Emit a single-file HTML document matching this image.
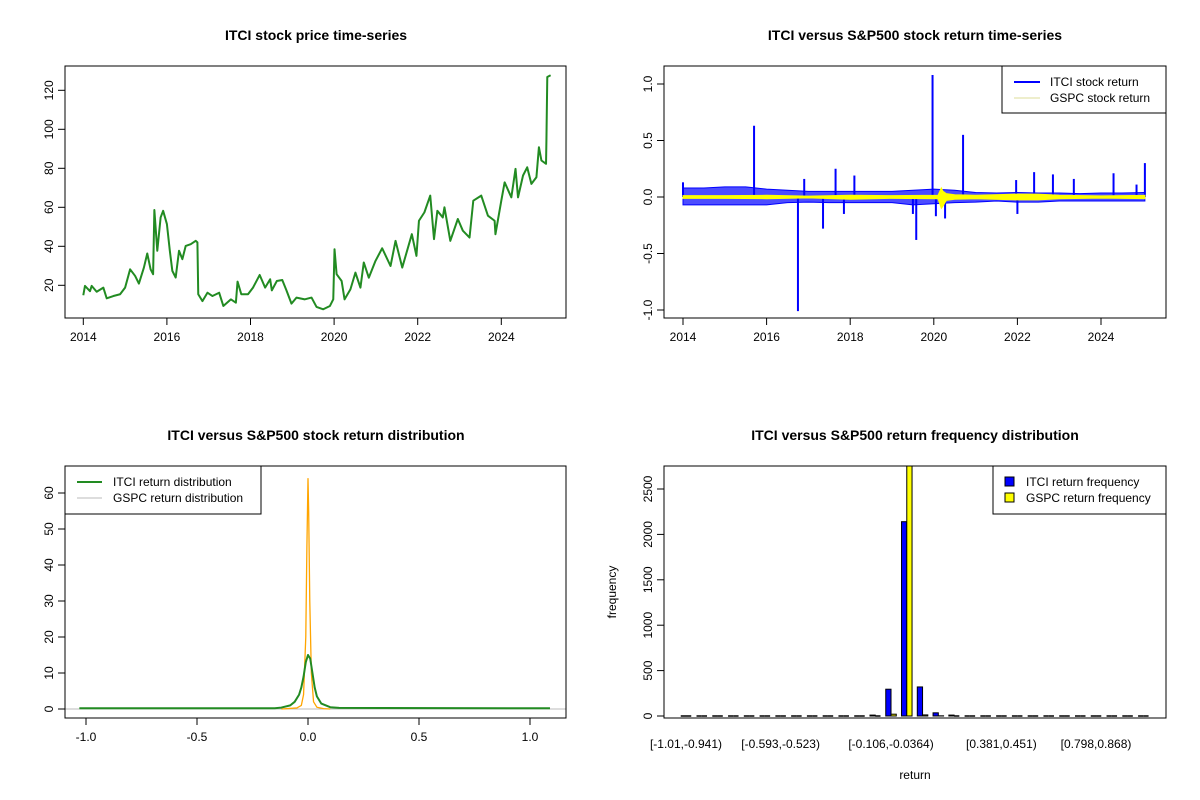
<!DOCTYPE html>
<html><head><meta charset="utf-8"><style>
body{margin:0;background:#fff}
svg{display:block;font-family:"Liberation Sans",Arial,sans-serif}
</style></head><body>
<svg id="s" width="1200" height="800" xmlns="http://www.w3.org/2000/svg">
<rect width="1200" height="800" fill="#fff"/>
<text x="316" y="40" text-anchor="middle" font-weight="bold" font-size="14">ITCI stock price time-series</text>
<text x="915" y="40" text-anchor="middle" font-weight="bold" font-size="14">ITCI versus S&amp;P500 stock return time-series</text>
<text x="316" y="440" text-anchor="middle" font-weight="bold" font-size="14">ITCI versus S&amp;P500 stock return distribution</text>
<text x="915" y="440" text-anchor="middle" font-weight="bold" font-size="14">ITCI versus S&amp;P500 return frequency distribution</text>
<text x="915" y="779" text-anchor="middle" font-size="12">return</text>
<text transform="translate(616,592) rotate(-90)" text-anchor="middle" font-size="12">frequency</text>
</svg>
<script>
const priceYears=[2014.0,2014.04,2014.16,2014.2,2014.32,2014.48,2014.56,2014.72,2014.88,2015.0,2015.12,2015.24,2015.33,2015.45,2015.53,2015.61,2015.67,2015.7,2015.77,2015.85,2015.91,2016.0,2016.07,2016.13,2016.21,2016.29,2016.37,2016.45,2016.57,2016.69,2016.73,2016.75,2016.85,2016.97,2017.09,2017.25,2017.35,2017.53,2017.65,2017.69,2017.78,2017.94,2018.06,2018.22,2018.35,2018.47,2018.51,2018.63,2018.76,2018.86,2018.98,2019.1,2019.3,2019.46,2019.58,2019.74,2019.9,2019.98,2020.01,2020.06,2020.18,2020.25,2020.39,2020.51,2020.63,2020.71,2020.83,2020.99,2021.15,2021.35,2021.47,2021.63,2021.86,2021.97,2022.03,2022.16,2022.3,2022.39,2022.47,2022.6,2022.64,2022.78,2022.96,2023.08,2023.24,2023.33,2023.52,2023.68,2023.84,2023.86,2024.0,2024.08,2024.24,2024.34,2024.4,2024.52,2024.62,2024.72,2024.84,2024.9,2024.96,2025.07,2025.08,2025.1,2025.18];
const priceValues=[14.9,19.7,17,19.7,16.7,18.8,13.3,14.5,15.4,18.8,28.2,24.8,20.9,29.1,36.3,28.2,25.7,58.6,37.7,54.8,58.2,51.4,37.7,27.4,24,37.7,33.4,40.2,41.1,42.8,42,15.4,11.9,16.2,14.5,16.2,9.4,12.8,11.1,21.9,15.4,15.4,18.8,25.3,18.8,23.1,17.4,22.2,22.7,17.4,10.6,13.7,12.8,13.7,8.9,7.7,9.4,12.8,38.5,25.7,22.2,12.8,17.9,26.5,18.8,31.7,23.9,32.5,39,29.9,42.8,29.1,46.2,35.1,53.1,57.4,66,43.7,58.2,54.8,60,42.8,54,48,44.5,63.4,66,55.7,53.1,46.2,63.4,72.8,65.1,79.7,65.1,76.3,80.5,72,75.4,90.8,84,82.3,95.1,126.8,127.7];
const priceTicksY=[20,40,60,80,100,120];
const yearTicks=[2014,2016,2018,2020,2022,2024];
const bandYears=[2014,2014.5,2015,2015.5,2016,2016.5,2017,2017.5,2018,2018.5,2019,2019.5,2020,2020.5,2021,2021.5,2022,2022.5,2023,2023.5,2024,2024.5,2025.05];
const itciUpper=[0.08,0.08,0.09,0.09,0.07,0.06,0.05,0.05,0.05,0.05,0.05,0.06,0.07,0.06,0.04,0.035,0.04,0.035,0.035,0.03,0.035,0.035,0.04];
const itciLower=[-0.07,-0.07,-0.07,-0.07,-0.07,-0.05,-0.045,-0.05,-0.05,-0.05,-0.05,-0.07,-0.06,-0.05,-0.045,-0.035,-0.045,-0.045,-0.035,-0.035,-0.035,-0.035,-0.035];
const spikeYears=[2014.0,2015.7,2016.75,2016.9,2017.35,2017.65,2017.85,2018.1,2019.5,2019.58,2019.97,2020.05,2020.27,2020.7,2021.97,2022.0,2022.4,2022.85,2023.35,2024.3,2024.85,2025.05];
const spikeValues=[0.13,0.63,-1.01,0.16,-0.28,0.25,-0.15,0.19,-0.15,-0.38,1.08,-0.17,-0.19,0.55,0.15,-0.15,0.22,0.2,0.16,0.21,0.11,0.3];
const gspcYears=[2014,2015,2016,2017,2018,2019,2020.1,2020.18,2020.22,2020.3,2020.5,2021,2022,2022.5,2023,2024,2025.05];
const gspcUpper=[0.012,0.012,0.015,0.008,0.015,0.012,0.015,0.08,0.05,0.03,0.02,0.015,0.025,0.025,0.015,0.01,0.015];
const gspcLower=[-0.012,-0.012,-0.015,-0.008,-0.02,-0.012,-0.015,-0.1,-0.08,-0.03,-0.02,-0.015,-0.025,-0.025,-0.015,-0.01,-0.015];
const returnTicksY=[-1.0,-0.5,0.0,0.5,1.0];
const itciDensX=[-1.03,-0.15,-0.12,-0.08,-0.06,-0.04,-0.03,-0.02,-0.01,0,0.01,0.02,0.03,0.04,0.06,0.1,0.14,1.09];
const itciDensY=[0.2,0.2,0.4,1,2,4,6,9,13,15,14,10,6,3.5,1.5,0.5,0.3,0.2];
const gspcDensX=[-0.12,-0.05,-0.03,-0.02,-0.01,-0.005,0,0.003,0.008,0.015,0.025,0.04,0.07,0.1];
const gspcDensY=[0,0.3,1,4,20,45,64,55,30,10,2,0.5,0.1,0];
const densTicksX=[-1.0,-0.5,0.0,0.5,1.0];
const densTicksY=[0,10,20,30,40,50,60];
const binLabels=["[-1.01,-0.941)","[-0.593,-0.523)","[-0.106,-0.0364)","[0.381,0.451)","[0.798,0.868)"];
const binLabelIdx=[0,6,13,20,26];
const itciFreq=[0,0,0,0,0,0,0,0,0,0,0,0,10,295,2140,320,35,10,0,0,0,0,0,0,0,0,0,0,0,0];
const gspcFreq=[0,0,0,0,0,0,0,0,0,0,0,0,0,20,2800,12,2,0,0,0,0,0,0,0,0,0,0,0,0,0];
const freqTicksY=[0,500,1000,1500,2000,2500];

const S=document.getElementById('s');const NS='http://www.w3.org/2000/svg';
function mk(t,a,p){const e=document.createElementNS(NS,t);for(const k in a)e.setAttribute(k,a[k]);(p||S).appendChild(e);return e;}
function txt(x,y,s,a){const e=mk('text',Object.assign({x:x,y:y,'font-size':12,'text-anchor':'middle'},a||{}));e.textContent=s;return e;}
function box(x0,y0,x1,y1,name){const e=mk('rect',{x:x0,y:y0,width:x1-x0,height:y1-y0,fill:'none',stroke:'#000','stroke-width':1});

}
function xAxis(ticks,fx,yb,fmt,name){const g=mk('g',{});


mk('line',{x1:fx(ticks[0]),x2:fx(ticks[ticks.length-1]),y1:yb,y2:yb,stroke:'#000'},g);
ticks.forEach(t=>{mk('line',{x1:fx(t),x2:fx(t),y1:yb,y2:yb+7,stroke:'#000'},g);const l=txt(fx(t),yb+23,fmt(t),{},);g.appendChild(l);

});}
function yAxis(ticks,fy,xl,fmt,name){const g=mk('g',{});


mk('line',{x1:xl,x2:xl,y1:fy(ticks[0]),y2:fy(ticks[ticks.length-1]),stroke:'#000'},g);
ticks.forEach(t=>{mk('line',{x1:xl,x2:xl-7,y1:fy(t),y2:fy(t),stroke:'#000'},g);const l=txt(0,0,fmt(t),{transform:'translate('+(xl-12)+','+fy(t)+') rotate(-90)'});g.appendChild(l);

});}
function poly(xs,ys,fx,fy,col,w,name){const p=mk('polyline',{points:xs.map((x,i)=>fx(x)+','+fy(ys[i])).join(' '),fill:'none',stroke:col,'stroke-width':w,'stroke-linejoin':'round'});

return p;}

// Panel 1
(function(){const fx=y=>83.3+(y-2014)*41.8, fy=v=>324.3-1.95*v;
poly(priceYears,priceValues,fx,fy,'#228B22',2,'itci-price-line');
box(65,66,566,318,'price-plot-box');
xAxis(yearTicks,fx,318,t=>String(t),'price-x-axis');
yAxis(priceTicksY,fy,65,t=>String(t),'price-y-axis');})();

// Panel 2
(function(){const fx=y=>683+(y-2014)*41.8, fy=v=>197-113*v;
function band(ys,up,lo,col,name,op){const pts=ys.map((y,i)=>fx(y)+','+fy(up[i])).concat(ys.slice().reverse().map((y,i)=>fx(y)+','+fy(lo[lo.length-1-i])));
const p=mk('polygon',{points:pts.join(' '),fill:col,'fill-opacity':op,stroke:col,'stroke-width':1});

}
band(bandYears,itciUpper,itciLower,'#0000ff','itci-return-band',0.7);
spikeYears.forEach((y,i)=>{const l=mk('line',{x1:fx(y),x2:fx(y),y1:fy(0),y2:fy(spikeValues[i]),stroke:'#0000ff','stroke-width':2});

});
band(gspcYears,gspcUpper,gspcLower,'#ffff00','gspc-return-band',1);
box(664,66,1166,318,'return-plot-box');
xAxis(yearTicks,fx,318,t=>String(t),'return-x-axis');
yAxis(returnTicksY,fy,664,t=>t.toFixed(1),'return-y-axis');
const g=mk('g',{});


mk('rect',{x:1002,y:66,width:164,height:47,fill:'#fff',stroke:'#000'},g);
mk('line',{x1:1014,x2:1040,y1:82,y2:82,stroke:'#0000ff','stroke-width':2},g);
mk('line',{x1:1014,x2:1040,y1:98,y2:98,stroke:'#dddd99','stroke-width':1},g);
g.appendChild(txt(1050,86,'ITCI stock return',{'text-anchor':'start'}));
g.appendChild(txt(1050,102,'GSPC stock return',{'text-anchor':'start'}));})();

// Panel 3
(function(){const fx=v=>308+222*v, fy=v=>709-3.6*v;
mk('line',{x1:65,x2:566,y1:fy(0),y2:fy(0),stroke:'#bbb'});
poly(gspcDensX,gspcDensY,fx,fy,'#FFA500',1.3,'gspc-density-line');
poly(itciDensX,itciDensY,fx,fy,'#228B22',2,'itci-density-line');
box(65,466,566,718,'density-plot-box');
xAxis(densTicksX,fx,718,t=>t.toFixed(1),'density-x-axis');
yAxis(densTicksY,fy,65,t=>String(t),'density-y-axis');
const g=mk('g',{});


mk('rect',{x:65,y:466,width:196,height:48,fill:'#fff',stroke:'#000'},g);
mk('line',{x1:77,x2:102,y1:482,y2:482,stroke:'#228B22','stroke-width':2},g);
mk('line',{x1:77,x2:102,y1:498,y2:498,stroke:'#bbb','stroke-width':1},g);
g.appendChild(txt(113,486,'ITCI return distribution',{'text-anchor':'start'}));
g.appendChild(txt(113,502,'GSPC return distribution',{'text-anchor':'start'}));})();

// Panel 4
(function(){const gx=i=>686+i*15.77, fy=v=>716-0.0908*v, top=466;
function bar(x,v,col){if(v<=0){const l=mk('line',{x1:x,x2:x+5.26,y1:fy(0),y2:fy(0),stroke:'#000','stroke-width':1.5});

return;}
const yt=Math.max(fy(v),top);const r=mk('rect',{x:x,y:yt,width:5.26,height:fy(0)-yt,fill:col,stroke:'#000','stroke-width':1});

}
itciFreq.forEach((v,i)=>bar(gx(i)-5.26,v,'#0000ff'));
gspcFreq.forEach((v,i)=>bar(gx(i),v,'#ffff00'));
box(664,466,1166,718,'frequency-plot-box');
yAxis(freqTicksY,fy,664,t=>String(t),'frequency-y-axis');
binLabelIdx.forEach((b,i)=>{const l=txt(gx(b),748,binLabels[i]);

});
const g=mk('g',{});


mk('rect',{x:993,y:466,width:173,height:48,fill:'#fff',stroke:'#000'},g);
mk('rect',{x:1005,y:477,width:9,height:9,fill:'#0000ff',stroke:'#000'},g);
mk('rect',{x:1005,y:493,width:9,height:9,fill:'#ffff00',stroke:'#000'},g);
g.appendChild(txt(1026,486,'ITCI return frequency',{'text-anchor':'start'}));
g.appendChild(txt(1026,502,'GSPC return frequency',{'text-anchor':'start'}));})();
</script>
</body></html>
